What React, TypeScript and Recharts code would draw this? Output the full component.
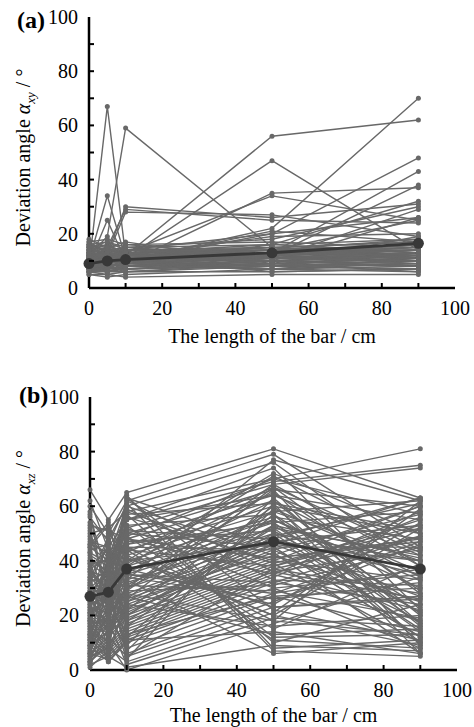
import { LineChart, Line, XAxis, YAxis, Label } from 'recharts';

const X_VALUES = [0, 5, 10, 50, 90];
const AXIS_TICKS = [0, 10, 20, 30, 40, 50, 60, 70, 80, 90, 100];

// (a) deviation angle in the xy plane, one row per specimen, read at X_VALUES
const XY_SERIES: number[][] = [
  [8, 67, 12, 14, 18],
  [10, 34, 11, 12, 15],
  [9, 25, 10, 20, 26],
  [12, 19, 59, 15, 13],
  [14, 13, 30, 26, 31],
  [11, 15, 29, 25, 24],
  [9, 12, 28, 27, 19],
  [13, 10, 12, 56, 62],
  [7, 9, 11, 47, 14],
  [10, 11, 9, 35, 37],
  [12, 14, 13, 34, 25],
  [8, 7, 10, 22, 70],
  [11, 12, 14, 20, 48],
  [15, 16, 12, 13, 43],
  [9, 10, 8, 12, 38],
  [6, 8, 9, 16, 32],
  [16, 17, 15, 18, 30],
  [13, 12, 11, 11, 29],
  [7, 6, 7, 10, 26],
  [10, 9, 10, 14, 25],
  [18, 15, 17, 9, 19],
  [5, 5, 6, 8, 9],
  [6, 7, 8, 7, 11],
  [9, 8, 7, 9, 12],
  [11, 10, 9, 12, 13],
  [12, 11, 10, 11, 10],
  [14, 13, 14, 15, 17],
  [8, 9, 8, 10, 8],
  [7, 6, 6, 6, 7],
  [10, 12, 11, 13, 16],
  [16, 14, 13, 14, 14],
  [17, 18, 16, 17, 15],
  [5, 4, 5, 7, 6],
  [6, 5, 4, 5, 5],
  [13, 11, 12, 10, 9],
  [9, 11, 10, 8, 10],
  [8, 10, 9, 11, 12],
  [11, 9, 8, 9, 11],
  [15, 12, 11, 12, 14],
  [12, 14, 15, 16, 18],
  [7, 8, 6, 9, 8],
  [10, 8, 9, 7, 9],
  [6, 9, 7, 8, 13],
  [14, 16, 13, 10, 11],
  [9, 7, 8, 13, 15],
  [17, 13, 12, 19, 20],
  [12, 10, 13, 14, 12],
  [8, 12, 11, 6, 7],
  [11, 13, 10, 21, 17],
  [13, 15, 16, 12, 10],
  [7, 9, 10, 11, 14],
  [9, 12, 12, 10, 13],
  [12, 13, 11, 13, 11],
  [15, 14, 15, 12, 9],
  [10, 10, 12, 15, 12],
  [6, 6, 8, 9, 10],
  [8, 8, 9, 12, 16],
  [13, 12, 10, 9, 8],
  [11, 14, 12, 14, 15],
  [16, 15, 14, 11, 12],
  [9, 9, 11, 10, 9],
  [7, 10, 9, 8, 7],
  [14, 11, 10, 13, 14],
  [10, 13, 14, 12, 11],
  [12, 9, 11, 15, 17],
  [8, 11, 12, 9, 6],
  [11, 8, 9, 11, 10],
  [13, 14, 13, 16, 13],
  [6, 8, 10, 7, 8],
  [15, 17, 14, 14, 16],
  [10, 7, 8, 10, 12],
  [9, 13, 12, 12, 14],
  [12, 12, 9, 8, 9],
  [7, 7, 7, 9, 11],
  [14, 15, 12, 11, 13],
  [11, 11, 11, 13, 12],
  [8, 6, 8, 11, 10],
  [13, 9, 10, 12, 15],
  [16, 12, 13, 15, 11],
  [10, 11, 13, 10, 8],
];
const XY_MEAN = [9, 10, 10.5, 13, 16.5];

// (b) deviation angle in the xz plane
const XZ_SERIES: number[][] = [
  [66, 55, 65, 81, 63],
  [60, 50, 62, 79, 45],
  [54, 48, 60, 76, 38],
  [50, 52, 58, 70, 81],
  [47, 45, 55, 69, 75],
  [45, 40, 52, 68, 74],
  [42, 38, 50, 66, 60],
  [40, 36, 48, 64, 55],
  [38, 44, 46, 62, 20],
  [36, 34, 44, 60, 50],
  [35, 30, 42, 58, 62],
  [33, 32, 40, 56, 48],
  [31, 28, 38, 55, 30],
  [30, 26, 36, 54, 58],
  [29, 35, 35, 52, 42],
  [28, 25, 33, 50, 15],
  [27, 24, 32, 49, 61],
  [26, 22, 30, 48, 35],
  [25, 20, 28, 47, 53],
  [24, 33, 27, 46, 40],
  [23, 18, 26, 45, 12],
  [22, 16, 24, 44, 57],
  [21, 15, 23, 42, 25],
  [20, 14, 22, 41, 47],
  [19, 13, 20, 40, 33],
  [18, 12, 19, 39, 10],
  [17, 42, 18, 38, 52],
  [16, 10, 17, 37, 28],
  [15, 9, 16, 36, 44],
  [14, 8, 15, 35, 22],
  [13, 7, 14, 34, 56],
  [12, 6, 13, 33, 18],
  [11, 5, 12, 32, 49],
  [10, 4, 11, 30, 8],
  [9, 3, 10, 28, 37],
  [8, 20, 8, 27, 14],
  [7, 30, 6, 25, 46],
  [6, 12, 5, 23, 26],
  [5, 8, 3, 21, 59],
  [4, 18, 2, 19, 16],
  [3, 10, 0, 17, 34],
  [2, 5, 1, 9, 7],
  [34, 27, 64, 8, 11],
  [44, 46, 61, 7, 5],
  [52, 38, 57, 10, 24],
  [48, 41, 53, 12, 13],
  [37, 29, 49, 15, 39],
  [32, 37, 45, 18, 62],
  [28, 31, 41, 20, 9],
  [25, 23, 37, 24, 54],
  [21, 26, 34, 26, 32],
  [17, 19, 31, 29, 19],
  [14, 21, 29, 31, 45],
  [11, 17, 25, 43, 6],
  [39, 34, 21, 46, 27],
  [43, 39, 16, 53, 41],
  [46, 43, 12, 57, 23],
  [56, 47, 7, 59, 36],
  [29, 24, 4, 61, 51],
  [19, 28, 9, 63, 17],
  [9, 14, 39, 65, 29],
  [13, 11, 43, 67, 43],
  [23, 21, 47, 51, 21],
  [27, 33, 51, 48, 63],
  [31, 25, 56, 40, 60],
  [41, 36, 59, 33, 31],
  [36, 29, 63, 22, 11],
  [6, 4, 27, 13, 15],
  [3, 9, 33, 6, 10],
  [26, 16, 20, 50, 40],
  [62, 44, 40, 72, 50],
  [58, 20, 63, 45, 12],
  [53, 51, 48, 35, 58],
  [49, 30, 35, 28, 47],
  [46, 54, 29, 66, 9],
  [43, 22, 55, 74, 22],
  [40, 18, 44, 38, 55],
  [37, 41, 60, 42, 60],
  [34, 12, 31, 58, 40],
  [32, 46, 26, 67, 28],
  [30, 36, 52, 30, 35],
  [28, 8, 45, 44, 18],
  [26, 39, 38, 71, 44],
  [24, 27, 20, 52, 14],
  [22, 50, 42, 20, 52],
  [20, 34, 57, 61, 6],
  [18, 16, 62, 36, 26],
  [16, 45, 30, 55, 33],
  [15, 22, 49, 70, 57],
  [13, 35, 24, 16, 20],
  [12, 19, 40, 46, 63],
  [11, 26, 18, 49, 12],
  [10, 42, 55, 64, 42],
  [9, 14, 35, 32, 24],
  [8, 31, 22, 60, 16],
  [7, 6, 48, 41, 48],
  [6, 25, 13, 27, 30],
  [5, 37, 53, 57, 10],
  [4, 11, 30, 68, 38],
  [3, 23, 44, 11, 8],
  [2, 15, 58, 39, 53],
  [1, 7, 25, 53, 21],
  [57, 32, 36, 62, 34],
  [51, 28, 50, 45, 45],
  [45, 53, 41, 23, 27],
  [39, 40, 46, 54, 17],
  [33, 49, 33, 77, 62],
  [27, 13, 28, 18, 13],
  [21, 3, 11, 14, 6],
  [18, 40, 5, 37, 49],
];
const XZ_MEAN = [27, 28.5, 37, 47, 37];

const FONT = "'Liberation Serif', 'DejaVu Serif', serif";
const GREY = '#686868';
const DARK = '#383838';

function buildRows(series: number[][], mean: number[]) {
  return X_VALUES.map((x, i) => {
    const row: Record<string, number> = { x, mean: mean[i] };
    series.forEach((s, j) => {
      row[`s${j}`] = s[i];
    });
    return row;
  });
}

const XTick = (props: any) => {
  const { x, y, payload } = props;
  const v = payload.value;
  return (
    <g>
      {v > 0 && v < 100 && <line x1={x} y1={y} x2={x} y2={y - 5} stroke="#000" strokeWidth={2} />}
      {v % 20 === 0 && (
        <text x={x} y={y + 27} textAnchor="middle" fontSize={20} fontFamily={FONT} fill="#000">
          {v}
        </text>
      )}
    </g>
  );
};

const YTick = (props: any) => {
  const { x, y, payload } = props;
  const v = payload.value;
  return (
    <g>
      {v > 0 && v < 100 && <line x1={x} y1={y} x2={x + 5} y2={y} stroke="#000" strokeWidth={2} />}
      {v % 20 === 0 && (
        <text x={x - 11} y={y + 7} textAnchor="end" fontSize={20} fontFamily={FONT} fill="#000">
          {v}
        </text>
      )}
    </g>
  );
};

interface PanelProps {
  series: number[][];
  mean: number[];
  sub: string;
  height: number;
  margin: { top: number; right: number; left: number; bottom: number };
  yAxisWidth: number;
  xLabelOffset: number;
}

function Panel({ series, mean, sub, height, margin, yAxisWidth, xLabelOffset }: PanelProps) {
  const rows = buildRows(series, mean);
  return (
    <LineChart width={474} height={height} data={rows} margin={margin}>
      <XAxis
        dataKey="x"
        type="number"
        domain={[0, 100]}
        ticks={AXIS_TICKS}
        interval={0}
        height={40}
        tickSize={0}
        tickMargin={0}
        tickLine={false}
        tick={<XTick />}
        axisLine={{ stroke: '#000', strokeWidth: 2.5 }}
      >
        <Label
          content={({ viewBox }: any) => (
            <text
              x={viewBox.x + viewBox.width / 2}
              y={viewBox.y + xLabelOffset}
              textAnchor="middle"
              fontSize={20}
              fontFamily={FONT}
              fill="#000"
            >
              The length of the bar / cm
            </text>
          )}
        />
      </XAxis>
      <XAxis
        xAxisId="top"
        orientation="top"
        type="number"
        domain={[0, 100]}
        height={0}
        tick={false}
        tickLine={false}
        axisLine={{ stroke: '#000', strokeWidth: 2.5 }}
      />
      <YAxis
        type="number"
        domain={[0, 100]}
        ticks={AXIS_TICKS}
        interval={0}
        width={yAxisWidth}
        tickSize={0}
        tickMargin={0}
        tickLine={false}
        tick={<YTick />}
        axisLine={{ stroke: '#000', strokeWidth: 2.5 }}
      >
        <Label
          content={({ viewBox }: any) => {
            const cx = 30;
            const cy = viewBox.y + viewBox.height / 2 + 5;
            return (
              <text
                transform={`translate(${cx},${cy}) rotate(-90)`}
                textAnchor="middle"
                fontSize={20}
                fontFamily={FONT}
                fill="#000"
              >
                Deviation angle <tspan fontStyle="italic">α</tspan>
                <tspan fontStyle="italic" fontSize={13} dy={5}>{sub}</tspan>
                <tspan dy={-5}> / °</tspan>
              </text>
            );
          }}
        />
      </YAxis>
      <YAxis
        yAxisId="right"
        orientation="right"
        type="number"
        domain={[0, 100]}
        width={0}
        tick={false}
        tickLine={false}
        axisLine={{ stroke: '#000', strokeWidth: 2.5 }}
      />
      {series.map((_, j) => (
        <Line
          key={j}
          type="linear"
          dataKey={`s${j}`}
          stroke={GREY}
          strokeWidth={1.4}
          dot={{ r: 2.5, fill: GREY, stroke: 'none' }}
          activeDot={false}
          isAnimationActive={false}
        />
      ))}
      <Line
        type="linear"
        dataKey="mean"
        stroke={DARK}
        strokeWidth={2.8}
        dot={{ r: 5.5, fill: DARK, stroke: 'none' }}
        activeDot={false}
        isAnimationActive={false}
      />
    </LineChart>
  );
}

export default function App() {
  return (
    <div style={{ position: 'relative', width: 474, height: 727, background: '#fff', fontFamily: FONT, overflow: 'hidden' }}>
      <style>{'body{margin:0;}'}</style>
      <Panel
        series={XY_SERIES}
        mean={XY_MEAN}
        sub="xy"
        height={360}
        margin={{ top: 17, right: 19, left: 0, bottom: 32 }}
        yAxisWidth={89}
        xLabelOffset={55}
      />
      <Panel
        series={XZ_SERIES}
        mean={XZ_MEAN}
        sub="xz"
        height={367}
        margin={{ top: 37, right: 17, left: 0, bottom: 17 }}
        yAxisWidth={90}
        xLabelOffset={52}
      />
      <div style={{ position: 'absolute', left: 17, top: 8, fontSize: 24, fontWeight: 'bold', lineHeight: 1 }}>
        (a)
      </div>
      <div style={{ position: 'absolute', left: 19, top: 383, fontSize: 24, fontWeight: 'bold', lineHeight: 1 }}>
        (b)
      </div>
    </div>
  );
}
